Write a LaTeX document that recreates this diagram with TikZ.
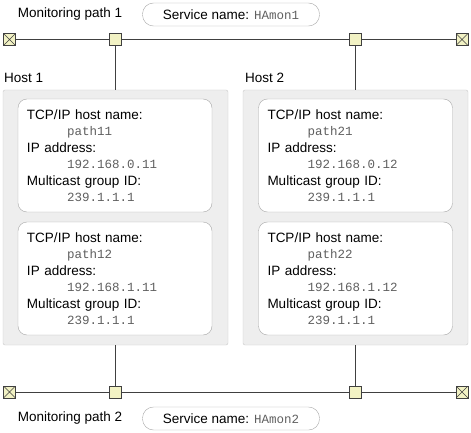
\documentclass[tikz,border=0pt]{standalone}
\usepackage{fontspec}
\setmainfont{Liberation Sans}
\setmonofont{Liberation Mono}
\usetikzlibrary{calc}
\definecolor{tapfill}{HTML}{F2F2C4}
\definecolor{hostfill}{HTML}{EEEEEE}
\definecolor{hostline}{HTML}{C8C8C8}
\definecolor{boxline}{HTML}{A8A8A8}
\definecolor{monotext}{HTML}{606060}
\newcommand*{\lft  }{115.5}
\newcommand*{\rgt  }{355.5}
\newcommand*{\topy }{39.5}
\newcommand*{\boty }{392}
\newcommand*{\mono}[1]{{\ttfamily\fontsize{12.5}{16.5}\selectfont\color{monotext}#1}}
\newcommand*{\val}[1]{\hspace*{40pt}\mono{#1}}
\newcommand*{\hostinfo}[3]{TCP/IP host name:\\\val{#1}\\IP address:\\\val{#2}\\Multicast group ID:\\\val{#3}}

\begin{document}
\begin{tikzpicture}[x=1pt, y=-1pt, font=\fontsize{13.5}{16.5}\selectfont,
    tap/.style   = {draw=black!75, fill=tapfill, minimum size=12pt, inner sep=0pt},
    term/.style  = {tap, path picture={\draw[black!75] (path picture bounding box.north west) -- (path picture bounding box.south east)
                                                       (path picture bounding box.north east) -- (path picture bounding box.south west);}},
    host/.style  = {draw=hostline, fill=hostfill, rounded corners=2pt, minimum width=225pt, minimum height=255pt, inner sep=0pt},
    info/.style  = {draw=boxline, fill=white, rounded corners=9pt, minimum width=194pt, minimum height=113pt,
                    text width=176pt, inner xsep=9pt, align=left},
    svc/.style   = {draw=boxline, rounded corners=11pt, minimum width=177pt, minimum height=23pt},
    net/.style   = {black!75, line width=1pt}]
    \useasboundingbox (0,0) rectangle (471,433);
    % hosts
    \node [host] (h1) at (\lft,217.5) {};
    \node [host] (h2) at (\rgt,217.5) {};
    \node [anchor=west, inner sep=0pt] (h1lbl) at (4,78) {Host 1};
    \node [anchor=west, inner sep=0pt] (h2lbl) at (245,78) {Host 2};
    \node [info] (h1a) at (115,155.5) {\hostinfo{path11}{192.168.0.11}{239.1.1.1}};
    \node [info] (h1b) at (115,278.5) {\hostinfo{path12}{192.168.1.11}{239.1.1.1}};
    \node [info] (h2a) at (355.5,155.5) {\hostinfo{path21}{192.168.0.12}{239.1.1.1}};
    \node [info] (h2b) at (355.5,278.5) {\hostinfo{path22}{192.168.1.12}{239.1.1.1}};
    % monitoring path 1
    \node [term] (t1l) at (9.5,\topy) {};
    \node [term] (t1r) at (462,\topy) {};
    \node [tap]  (p1l) at (\lft,\topy) {};
    \node [tap]  (p1r) at (\rgt,\topy) {};
    \draw [net] (t1l) -- (p1l) -- (p1r) -- (t1r);
    \draw [net] (p1l) -- (h1);
    \draw [net] (p1r) -- (h2);
    \node (m1lbl) at (70,14) {Monitoring path 1};
    \node [svc] (s1) at (231,14.5) {Service name: \mono{HAmon1}};
    % monitoring path 2
    \node [term] (t2l) at (9.5,\boty) {};
    \node [term] (t2r) at (462,\boty) {};
    \node [tap]  (p2l) at (\lft,\boty) {};
    \node [tap]  (p2r) at (\rgt,\boty) {};
    \draw [net] (t2l) -- (p2l) -- (p2r) -- (t2r);
    \draw [net] (p2l) -- (h1);
    \draw [net] (p2r) -- (h2);
    \node (m2lbl) at (70,418) {Monitoring path 2};
    \node [svc] (s2) at (231,418.5) {Service name: \mono{HAmon2}};
\end{tikzpicture}
\end{document}
